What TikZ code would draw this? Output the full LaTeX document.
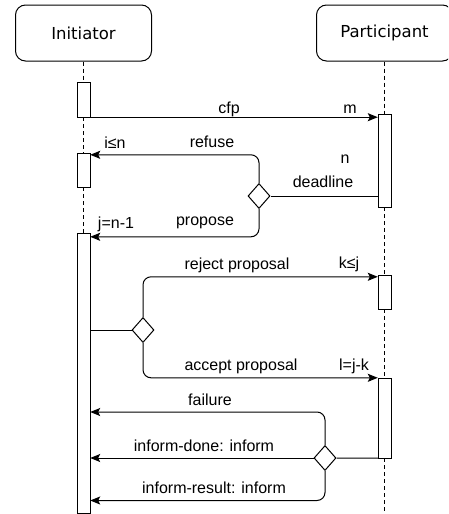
\documentclass[tikz,border=0pt]{standalone}
\usepackage{fontspec}
\setmainfont{Liberation Sans}
\newfontfamily\headfont{DejaVu Sans}
\usetikzlibrary{arrows.meta,shapes.geometric,calc}
\begin{document}
\begin{tikzpicture}[x=1pt,y=-1pt,
 head/.style={draw,rounded corners=10pt,minimum width=136pt,minimum height=56pt,font=\headfont\fontsize{16.5}{19}\selectfont,line width=1pt,inner sep=0pt},
 act/.style={draw,fill=white,minimum width=13pt,inner sep=0pt,line width=1pt},
 dec/.style={draw,diamond,fill=white,minimum width=22pt,minimum height=25pt,inner sep=0pt,line width=1pt},
 life/.style={dash pattern=on 4pt off 3pt,line width=0.9pt},
 msg/.style={line width=1pt,rounded corners=8pt,-{Stealth[length=10pt,width=8pt,inset=2pt]}},
 link/.style={line width=1pt},
 lbl/.style={anchor=base,font=\fontsize{16}{19}\selectfont,inner sep=0pt}
]
\useasboundingbox (0,0) rectangle (448,514);
\clip (0,0) rectangle (448,514);
\fill[white] (0,0) rectangle (448,514);

% lifeline heads
\node[head] (ih) at (83.5,33) {Initiator};
\node[head] (ph) at (384.5,33) {Participant};

% activation boxes (positions only)
\coordinate (iA1c) at (83.5,99.5);
\coordinate (pA1c) at (384.5,160.5);
\coordinate (iA2c) at (83.5,170);
\coordinate (iA3c) at (83.5,373);
\coordinate (pA2c) at (384.5,292);
\coordinate (pA3c) at (384.5,418);
\coordinate (pend) at (384.5,516);
\coordinate (yf) at (0,412);
\coordinate (yr) at (0,500.5);

% lifelines
\path (iA1c) node[minimum width=13pt,minimum height=35pt,inner sep=0pt] (iA1) {}
      (pA1c) node[minimum width=13pt,minimum height=93pt,inner sep=0pt] (pA1) {}
      (iA2c) node[minimum width=13pt,minimum height=34pt,inner sep=0pt] (iA2) {}
      (iA3c) node[minimum width=13pt,minimum height=280pt,inner sep=0pt] (iA3) {}
      (pA2c) node[minimum width=13pt,minimum height=34pt,inner sep=0pt] (pA2) {}
      (pA3c) node[minimum width=13pt,minimum height=80pt,inner sep=0pt] (pA3) {};
\draw[life] (ih.south) -- (iA1.north);
\draw[life] (iA1.south) -- (iA2.north);
\draw[life] (iA2.south) -- (iA3.north);
\draw[life] (ph.south) -- (pA1.north);
\draw[life] (pA1.south) -- (pA2.north);
\draw[life] (pA2.south) -- (pA3.north);
\draw[life] (pA3.south) -- (pend);

\node[act,minimum height=35pt] at (iA1c) {};
\node[act,minimum height=93pt] at (pA1c) {};
\node[act,minimum height=34pt] at (iA2c) {};
\node[act,minimum height=280pt] at (iA3c) {};
\node[act,minimum height=34pt] at (pA2c) {};
\node[act,minimum height=80pt] at (pA3c) {};

% decisions
\node[dec] (d1) at (259,196) {};
\node[dec] (d2) at (143,330) {};
\node[dec] (d3) at (325,458) {};

% messages
\draw[msg] (iA1.south east) -- (iA1.south east -| pA1.west);
\draw[link] (d1.east -| pA1.west) -- (d1.east);
\draw[msg] (d1.north) |- ([yshift=-2pt]iA2.north east);
\draw[msg] (d1.south) |- ([yshift=-4pt]iA3.north east);
\draw[link] (d2.west -| iA3.east) -- (d2.west);
\draw[msg] (d2.north) |- ([yshift=-2pt]pA2.north west);
\draw[msg] (d2.south) |- (pA3.north west);
\draw[link] (pA3.south west) -- (d3.east);
\draw[msg] (d3.north) |- (yf -| iA3.east);
\draw[msg] (d3.west) -- (d3.west -| iA3.east);
\draw[msg] (d3.south) |- (yr -| iA3.east);

% labels
\node[lbl] (t1) at (229,113) {cfp};
\node[lbl] (t2) at (350,113) {m};
\node[lbl] (t3) at (212,147) {refuse};
\node[lbl] (t4) at (115,148) {i≤n};
\node[lbl] (t5) at (345,163) {n};
\node[lbl] (t6) at (323,187) {deadline};
\node[lbl] (t7) at (205,225) {propose};
\node[lbl] (t8) at (116,228) {j=n-1};
\node[lbl] (t9) at (237,269) {reject proposal};
\node[lbl] (t10) at (349,268) {k≤j};
\node[lbl] (t11) at (241,370) {accept proposal};
\node[lbl] (t12) at (354,370) {l=j-k};
\node[lbl] (t13) at (210,405) {failure};
\node[lbl] (t14) at (204,451) {inform-done: inform};
\node[lbl] (t15) at (214,493) {inform-result: inform};
\end{tikzpicture}
\end{document}
